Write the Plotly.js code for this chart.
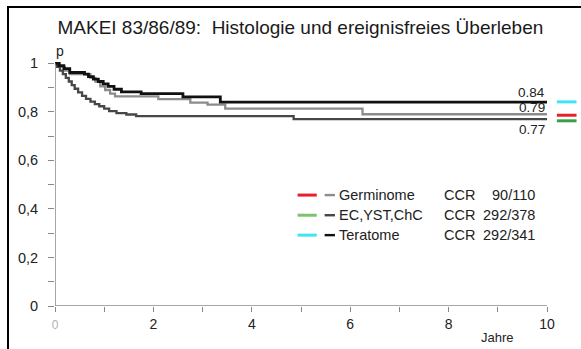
<!DOCTYPE html>
<html>
<head>
<meta charset="utf-8">
<script src="https://cdn.plot.ly/plotly-3.0.1.min.js"></script>
<style>
html,body{margin:0;padding:0;background:#fff;overflow:hidden;}
#chart{width:581px;height:349px;}
#frame{position:absolute;left:7px;top:6px;width:600px;height:400px;border-left:2px solid #000;border-top:2px solid #000;pointer-events:none;}
</style>
</head>
<body>
<div id="chart"></div>
<div id="frame"></div>
<script>
// ---- data ----
const groups = ['Germinome', 'EC,YST,ChC', 'Teratome'];
const ccr = ['90/110', '292/378', '292/341'];
const finalValues = ['0.79', '0.77', '0.84'];

const germT = [0, 0.1, 0.2, 0.3, 0.72, 0.82, 0.92, 1.02, 1.12, 1.22, 2.1, 2.75, 3.1, 3.46, 6.25, 10];
const germS = [1, 0.985, 0.97, 0.955, 0.94, 0.925, 0.905, 0.89, 0.875, 0.864, 0.852, 0.838, 0.83, 0.813, 0.79, 0.79];

const ecT = [0, 0.04, 0.1, 0.16, 0.22, 0.28, 0.34, 0.4, 0.47, 0.55, 0.63, 0.72, 0.81, 0.9, 1.0, 1.1, 1.25, 1.45, 1.65, 4.85, 10];
const ecS = [1, 0.985, 0.97, 0.955, 0.94, 0.925, 0.91, 0.895, 0.88, 0.866, 0.853, 0.842, 0.832, 0.823, 0.813, 0.803, 0.795, 0.789, 0.782, 0.77, 0.77];

const terT = [0, 0.08, 0.18, 0.3, 0.6, 0.68, 0.78, 0.88, 0.98, 1.08, 1.2, 1.35, 1.75, 2.6, 3.36, 10];
const terS = [1, 0.99, 0.978, 0.962, 0.955, 0.945, 0.935, 0.925, 0.915, 0.905, 0.893, 0.882, 0.875, 0.862, 0.84, 0.84];

const swatchY = [0.786, 0.763, 0.841];       // coloured marks right of the curves
const legendRowY = [0.457, 0.374, 0.292];    // legend rows
const xTicks = [0,1,2,3,4,5,6,7,8,9,10];
const xTickText = ['<span style="color:#b0b0b0;font-size:12px">0</span>','','2','','4','','6','','8','','10'];
const yTicks = [0,0.1,0.2,0.3,0.4,0.5,0.6,0.7,0.8,0.9,1];
const yTickText = ['0','','0,2','','0,4','','0,6','','0,8','','1'];

// ---- styles ----
const curveColors = ['#8c8c8c', '#474747', '#111111'];
const curveWidths = [2.3, 2.3, 2.8];
const swatchColors = ['#e8202a', '#3aa048', '#3ee6f4'];
const legendSwatchColors = ['#e8202a', '#7cc46c', '#3ee6f4'];
const curves = [[germT, germS], [ecT, ecS], [terT, terS]];

const traces = [];
curves.forEach((c, i) => {
  traces.push({x: c[0], y: c[1], mode: 'lines', line: {shape: 'hv', color: curveColors[i], width: curveWidths[i]}, hoverinfo: 'skip'});
});
// right-side coloured marks
swatchY.forEach((v, i) => {
  traces.push({x: [10.2, 10.6], y: [v, v], mode: 'lines', line: {color: swatchColors[i], width: 3}, hoverinfo: 'skip'});
});
// legend swatches
legendRowY.forEach((v, i) => {
  traces.push({x: [4.93, 5.32], y: [v, v], mode: 'lines', line: {color: legendSwatchColors[i], width: 3}, hoverinfo: 'skip'});
  traces.push({x: [5.48, 5.69], y: [v, v], mode: 'lines', line: {color: curveColors[i], width: 2.4}, hoverinfo: 'skip'});
});

const font = 'Liberation Sans, Arial, sans-serif';
const annotations = [];
legendRowY.forEach((v, i) => {
  annotations.push({x: 5.73, y: v, xref: 'x', yref: 'y', text: groups[i], showarrow: false, xanchor: 'left', yanchor: 'middle', font: {size: 14.5, color: '#222'}});
  annotations.push({x: 7.86, y: v, xref: 'x', yref: 'y', text: 'CCR', showarrow: false, xanchor: 'left', yanchor: 'middle', font: {size: 14.5, color: '#222'}});
  annotations.push({x: 9.79, y: v, xref: 'x', yref: 'y', text: ccr[i], showarrow: false, xanchor: 'right', yanchor: 'middle', font: {size: 14.5, color: '#222'}});
});
// end values
annotations.push({x: 10, y: terS[terS.length-1], xref: 'x', yref: 'y', text: finalValues[2], showarrow: false, xanchor: 'right', yanchor: 'bottom', yshift: 0, font: {size: 13.5, color: '#222'}});
annotations.push({x: 10, y: germS[germS.length-1], xref: 'x', yref: 'y', text: finalValues[0], showarrow: false, xanchor: 'right', yanchor: 'bottom', yshift: -3, font: {size: 13.5, color: '#222'}});
annotations.push({x: 10, y: ecS[ecS.length-1], xref: 'x', yref: 'y', text: finalValues[1], showarrow: false, xanchor: 'right', yanchor: 'top', yshift: -1, font: {size: 13.5, color: '#222'}});
// axis captions
annotations.push({x: 0, y: 1, xref: 'x', yref: 'y', text: 'p', showarrow: false, xanchor: 'left', yanchor: 'bottom', xshift: -1, yshift: 2, font: {size: 14, color: '#222'}});
annotations.push({x: 9.0, y: 0, xref: 'x', yref: 'y', text: 'Jahre', showarrow: false, xanchor: 'center', yanchor: 'middle', yshift: -31, font: {size: 13, color: '#222'}});

const layout = {
  width: 581, height: 349,
  margin: {l: 55, r: 2, t: 56, b: 43},
  paper_bgcolor: '#fff', plot_bgcolor: '#fff',
  showlegend: false,
  font: {family: font, color: '#222'},
  title: {text: 'MAKEI 83/86/89:  Histologie und ereignisfreies Überleben', x: 0.517, xanchor: 'center', y: 0.923, yanchor: 'middle', font: {size: 19, color: '#1a1a1a', family: font}},
  xaxis: {range: [0, 10.65], showgrid: false, zeroline: false, showline: false,
    tickmode: 'array', tickvals: xTicks, ticktext: xTickText, ticks: 'outside', ticklen: 5, tickcolor: '#888', tickwidth: 1,
    tickfont: {size: 14, color: '#222'}, fixedrange: true},
  yaxis: {range: [0, 1.03], showgrid: false, zeroline: false, showline: false,
    tickmode: 'array', tickvals: yTicks, ticktext: yTickText, ticks: 'outside', ticklen: 6, tickcolor: '#888', tickwidth: 1,
    tickfont: {size: 14.5, color: '#222'}, ticklabelstandoff: 7, fixedrange: true},
  shapes: [
    {type: 'line', xref: 'x', yref: 'y', x0: 0, x1: 10, y0: 0, y1: 0, line: {color: '#888', width: 1.5}},
    {type: 'line', xref: 'x', yref: 'y', x0: 0, x1: 0, y0: 0, y1: 1, line: {color: '#888', width: 1.5}}
  ],
  annotations: annotations
};

Plotly.newPlot('chart', traces, layout, {displayModeBar: false, staticPlot: true});
</script>
</body>
</html>
